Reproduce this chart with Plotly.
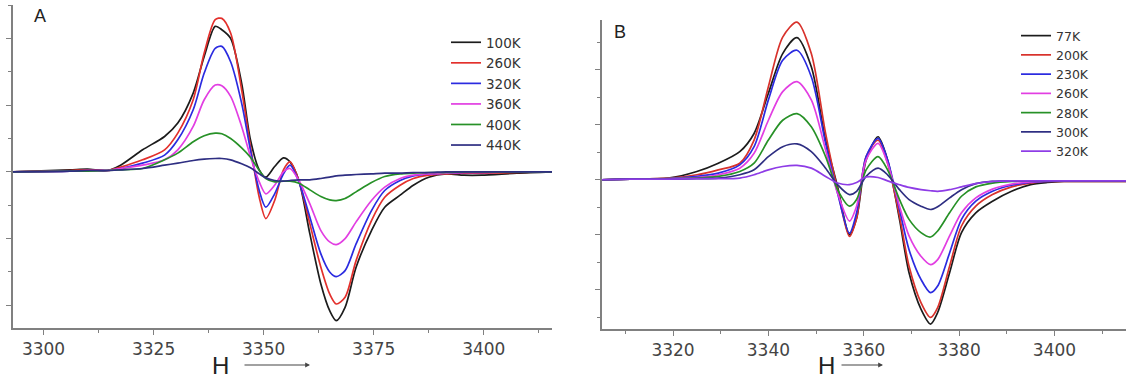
import plotly.graph_objects as go

# ---------------- Panel A data ----------------
field_A = [3293, 3306, 3310, 3314.5, 3317.5, 3322.5, 3327.5, 3330.5, 3334, 3336.5, 3339, 3340.5,
           3342.5, 3345, 3347, 3349, 3350.5, 3352.5, 3354.5, 3356, 3358, 3360.5, 3363, 3365,
           3366.5, 3368.5, 3371, 3374.5, 3377.5, 3381, 3384, 3387.5, 3391.5, 3395.5, 3399.5,
           3407.5, 3415.5]
labels_A = ["100K", "260K", "320K", "360K", "400K", "440K"]
a_100K = [0, 0.03, 0.04, 0.02, 0.1, 0.33, 0.53, 0.73, 1.18, 1.73, 2.18, 2.13, 2.0, 1.33, 0.48,
          0.03, -0.08, 0.08, 0.21, 0.15, -0.13, -0.93, -1.68, -2.08, -2.23, -2.03, -1.43, -0.88,
          -0.53, -0.35, -0.2, -0.08, -0.03, -0.05, -0.05, -0.02, 0]
a_260K = [0, 0.02, 0.03, 0.02, 0.07, 0.18, 0.33, 0.58, 1.08, 1.78, 2.28, 2.3, 2.08, 1.23, 0.38,
          -0.38, -0.7, -0.43, 0.03, 0.15, -0.13, -0.78, -1.43, -1.83, -1.98, -1.88, -1.33, -0.73,
          -0.38, -0.2, -0.1, -0.05, -0.03, -0.02, -0.02, -0.01, 0]
a_320K = [0, 0.01, 0.02, 0.02, 0.05, 0.13, 0.25, 0.48, 0.93, 1.48, 1.85, 1.88, 1.65, 1.03, 0.33,
          -0.28, -0.53, -0.33, -0.03, 0.1, -0.15, -0.68, -1.23, -1.5, -1.57, -1.48, -1.08, -0.58,
          -0.28, -0.13, -0.06, -0.03, -0.02, -0.01, -0.01, 0, 0]
a_360K = [0, 0.01, 0.02, 0.02, 0.05, 0.1, 0.18, 0.33, 0.68, 1.08, 1.3, 1.29, 1.13, 0.68, 0.23,
          -0.15, -0.33, -0.2, 0.0, 0.05, -0.13, -0.48, -0.88, -1.05, -1.09, -1.0, -0.75, -0.43,
          -0.23, -0.1, -0.05, -0.03, -0.02, -0.01, -0.01, 0, 0]
a_400K = [0, 0.01, 0.01, 0.02, 0.03, 0.05, 0.18, 0.28, 0.45, 0.54, 0.58, 0.57, 0.5, 0.36, 0.22,
          0.02, -0.1, -0.15, -0.14, -0.14, -0.17, -0.27, -0.37, -0.42, -0.43, -0.4, -0.3, -0.16,
          -0.07, -0.03, -0.02, -0.01, -0.01, 0, 0, 0, 0]
a_440K = [0, 0.01, 0.02, 0.02, 0.03, 0.05, 0.1, 0.13, 0.17, 0.19, 0.2, 0.2, 0.18, 0.12, 0.06,
          -0.03, -0.09, -0.13, -0.14, -0.13, -0.12, -0.12, -0.1, -0.08, -0.06, -0.05, -0.04, -0.03,
          -0.02, -0.02, -0.01, -0.01, 0, 0, 0, 0, 0]
series_A = [a_100K, a_260K, a_320K, a_360K, a_400K, a_440K]
colors_A = ["#1c1c1c", "#e3302c", "#2b2be0", "#e23ee2", "#279127", "#2e2e82"]

# ---------------- Panel B data ----------------
field_B = [3305, 3311, 3319, 3325, 3329.5, 3334, 3337, 3340, 3343, 3346, 3349, 3352, 3354.5,
           3357, 3358.5, 3360.5, 3363, 3365, 3367.5, 3369.5, 3372, 3374, 3375.5, 3378, 3380.5,
           3383.5, 3387, 3391, 3395, 3398.5, 3402, 3408, 3415]
labels_B = ["77K", "200K", "230K", "260K", "280K", "300K", "320K"]
b_77K = [0, 0.01, 0.03, 0.15, 0.3, 0.51, 0.84, 1.57, 2.29, 2.58, 2.05, 0.72, -0.12, -1.0, -0.7,
         0.36, 0.78, 0.36, -0.72, -1.69, -2.35, -2.62, -2.41, -1.69, -0.96, -0.6, -0.39, -0.21,
         -0.09, -0.05, -0.03, -0.03, -0.03]
b_200K = [0, 0.01, 0.03, 0.09, 0.18, 0.3, 0.72, 1.69, 2.59, 2.86, 2.29, 0.84, -0.18, -1.03, -0.7,
          0.42, 0.72, 0.3, -0.66, -1.57, -2.23, -2.5, -2.32, -1.57, -0.84, -0.48, -0.27, -0.13,
          -0.06, -0.03, -0.03, -0.03, -0.03]
b_230K = [0, 0.01, 0.02, 0.06, 0.12, 0.27, 0.6, 1.45, 2.17, 2.35, 1.87, 0.66, -0.24, -0.97, -0.6,
          0.42, 0.75, 0.36, -0.54, -1.27, -1.81, -2.05, -1.93, -1.33, -0.72, -0.39, -0.21, -0.1,
          -0.05, -0.03, -0.02, -0.02, -0.02]
b_260K = [0, 0.01, 0.02, 0.04, 0.09, 0.21, 0.48, 1.08, 1.6, 1.78, 1.45, 0.54, -0.24, -0.75, -0.48,
          0.36, 0.66, 0.3, -0.48, -1.02, -1.39, -1.54, -1.45, -1.02, -0.6, -0.33, -0.17, -0.08,
          -0.04, -0.02, -0.02, -0.02, -0.02]
b_280K = [0, 0.01, 0.02, 0.03, 0.06, 0.15, 0.3, 0.72, 1.08, 1.2, 0.96, 0.42, -0.18, -0.48, -0.36,
          0.18, 0.42, 0.18, -0.36, -0.72, -0.96, -1.04, -0.93, -0.6, -0.3, -0.13, -0.06, -0.03,
          -0.02, -0.02, -0.02, -0.02, -0.02]
b_300K = [0, 0.01, 0.01, 0.02, 0.03, 0.09, 0.18, 0.42, 0.6, 0.65, 0.51, 0.21, -0.09, -0.27, -0.21,
          0.06, 0.21, 0.09, -0.18, -0.36, -0.48, -0.54, -0.49, -0.33, -0.18, -0.07, -0.03, -0.02,
          -0.02, -0.02, -0.02, -0.02, -0.02]
b_320K = [0, 0.01, 0.01, 0.02, 0.02, 0.03, 0.09, 0.18, 0.24, 0.26, 0.21, 0.06, -0.06, -0.09, -0.05,
          0.05, 0.04, -0.02, -0.09, -0.14, -0.18, -0.2, -0.21, -0.18, -0.13, -0.07, -0.03, -0.02,
          -0.02, -0.02, -0.02, -0.02, -0.02]
series_B = [b_77K, b_200K, b_230K, b_260K, b_280K, b_300K, b_320K]
colors_B = ["#1c1c1c", "#d8322c", "#2b2be0", "#e23ee2", "#279127", "#2e2e82", "#8e3ce6"]

ticks_A = [3300, 3325, 3350, 3375, 3400]
ticks_B = [3320, 3340, 3360, 3380, 3400]

FONT = "Arial, Liberation Sans, sans-serif"
WIDE = "DejaVu Sans, Verdana, sans-serif"

fig = go.Figure()
for name, ys, c in zip(labels_A, series_A, colors_A):
    fig.add_trace(go.Scatter(x=field_A, y=ys, name=name, mode="lines",
                             line=dict(color=c, width=1.7, shape="spline", smoothing=0.8),
                             xaxis="x", yaxis="y", legend="legend"))
for name, ys, c in zip(labels_B, series_B, colors_B):
    fig.add_trace(go.Scatter(x=field_B, y=ys, name=name, mode="lines",
                             line=dict(color=c, width=1.7, shape="spline", smoothing=0.8),
                             xaxis="x2", yaxis="y2", legend="legend2"))

W, H = 1126, 380
axis_common = dict(showline=True, linecolor="#808080", linewidth=1.5, showgrid=False,
                   zeroline=False, ticks="outside", tickcolor="#808080", ticklen=5, tickwidth=1,
                   mirror=False, automargin=False)
xfont = dict(family=WIDE, size=17, color="#444444")

fig.update_layout(
    width=W, height=H,
    margin=dict(l=0, r=0, t=0, b=0),
    paper_bgcolor="white", plot_bgcolor="white",
    showlegend=True,
    xaxis=dict(domain=[12.7 / W, 552 / W], range=[3293, 3415.5], tickvals=ticks_A,
               tickfont=xfont, anchor="y",
               minor=dict(dtick=12.5, tick0=3300, ticks="outside", ticklen=3, tickcolor="#808080"),
               **axis_common),
    yaxis=dict(domain=[(H - 328) / H, (H - 5) / H], range=[-2.34, 2.5], dtick=1, tick0=0,
               showticklabels=False, anchor="x",
               minor=dict(dtick=0.5, tick0=0, ticks="outside", ticklen=3, tickcolor="#808080"),
               **axis_common),
    xaxis2=dict(domain=[601.5 / W, 1.0], range=[3305, 3415], tickvals=ticks_B,
                tickfont=xfont, anchor="y2",
                minor=dict(dtick=10, tick0=3300, ticks="outside", ticklen=3, tickcolor="#808080"),
                **axis_common),
    yaxis2=dict(domain=[(H - 329) / H, (H - 20) / H], range=[-2.71, 2.9], dtick=1, tick0=0,
                showticklabels=False, anchor="x2",
                minor=dict(dtick=0.5, tick0=0, ticks="outside", ticklen=3, tickcolor="#808080"),
                **axis_common),
    legend=dict(x=446 / W, y=1 - 27 / H, xanchor="left", yanchor="top",
                bgcolor="rgba(0,0,0,0)", font=dict(family=WIDE, size=13.5, color="#333333"),
                tracegroupgap=0, itemclick=False),
    legend2=dict(x=1016 / W, y=1 - 21 / H, xanchor="left", yanchor="top",
                 bgcolor="rgba(0,0,0,0)", font=dict(family=WIDE, size=12.5, color="#333333"),
                 tracegroupgap=0, itemclick=False),
    annotations=[
        dict(text="A", x=40 / W, y=1 - 16 / H, xref="paper", yref="paper", showarrow=False,
             xanchor="center", yanchor="middle",
             font=dict(family=FONT, size=18, color="#222222")),
        dict(text="B", x=620 / W, y=1 - 32 / H, xref="paper", yref="paper", showarrow=False,
             xanchor="center", yanchor="middle",
             font=dict(family=FONT, size=18, color="#222222")),
        dict(text="H", x=220 / W, y=1 - 365 / H, xref="paper", yref="paper", showarrow=False,
             xanchor="center", yanchor="middle",
             font=dict(family=FONT, size=24, color="#222222")),
        dict(text="H", x=826 / W, y=1 - 365 / H, xref="paper", yref="paper", showarrow=False,
             xanchor="center", yanchor="middle",
             font=dict(family=FONT, size=24, color="#222222")),
        dict(text="", x=310 / W, y=1 - 365 / H, xref="paper", yref="paper", showarrow=True,
             ax=-67, ay=0, axref="pixel", ayref="pixel", arrowhead=2, arrowsize=0.8,
             arrowwidth=1.2, arrowcolor="#444444"),
        dict(text="", x=883 / W, y=1 - 365 / H, xref="paper", yref="paper", showarrow=True,
             ax=-43, ay=0, axref="pixel", ayref="pixel", arrowhead=2, arrowsize=0.8,
             arrowwidth=1.2, arrowcolor="#444444"),
    ],
)

fig.write_html("out.html", config={"displayModeBar": False},
               post_script="document.body.style.margin='0';document.body.style.padding='0';")
